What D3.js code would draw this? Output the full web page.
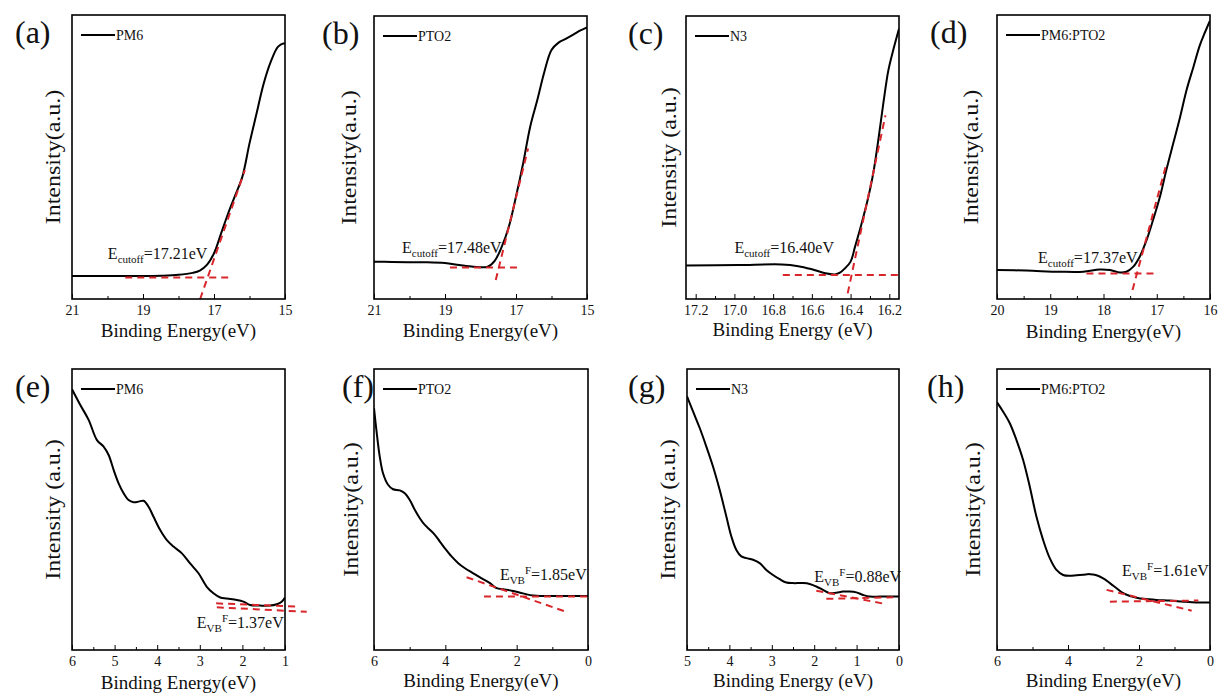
<!DOCTYPE html>
<html>
<head>
<meta charset="utf-8">
<script src="https://cdn.jsdelivr.net/npm/d3@7"></script>
<style>
body { margin: 0; background: #fff; }
</style>
</head>
<body>
<svg width="1218" height="693"></svg>
<script>
// spectra: [binding energy (eV), intensity (a.u., 0-100 of the frame)]
const pm6Cutoff = [[21, 8.1], [20, 8.1], [19, 8.1], [18.5, 8.2], [18, 8.5], [17.6, 9.2], [17.4, 10.0],
  [17.2, 12.0], [17.0, 16.1], [16.8, 23.1], [16.6, 30.2], [16.4, 36.6], [16.2, 43.1], [16.0, 54.8],
  [15.8, 65.4], [15.6, 75.9], [15.4, 83.6], [15.2, 88.8], [15.05, 90.0], [15.0, 89.8]];
const pto2Cutoff = [[21, 13.2], [20.5, 13.1], [20, 13.0], [19.5, 13.0], [19, 12.7], [18.6, 12.0], [18.2, 11.4],
  [17.8, 11.4], [17.6, 13.5], [17.4, 18.5], [17.2, 25.6], [17.0, 36.2], [16.8, 47.9], [16.6, 60.9],
  [16.4, 70.3], [16.2, 80.3], [16.0, 88.0], [15.8, 90.6], [15.6, 91.9], [15.4, 93.3], [15.2, 94.8], [15.0, 96.0]];
const n3Cutoff = [[17.25, 11.8], [16.98, 12.0], [16.755, 12.2], [16.67, 11.6], [16.6, 10.5], [16.53, 9.1],
  [16.48, 8.7], [16.455, 9.3], [16.43, 10.8], [16.4, 13.2], [16.377, 18.5], [16.343, 26.7], [16.308, 36.1],
  [16.283, 44.4], [16.257, 56.1], [16.231, 69.1], [16.205, 80.8], [16.18, 87.9], [16.15, 95.5]];
const blendCutoff = [[20, 10.2], [19.45, 10.0], [18.82, 9.6], [18.38, 9.6], [18.07, 10.4], [17.88, 10.2],
  [17.69, 9.3], [17.57, 9.6], [17.44, 11.4], [17.32, 14.9], [17.19, 20.8], [17.07, 27.8], [16.94, 36.0],
  [16.82, 45.4], [16.69, 54.8], [16.56, 64.2], [16.44, 73.6], [16.31, 81.8], [16.19, 89.4], [16.09, 94.1], [16.0, 98.0]];

const pm6Vb = [[6.0, 92.8], [5.805, 87.2], [5.61, 81.9], [5.414, 74.7], [5.258, 72.4], [5.14, 69.4], [5.023, 64.1],
  [4.906, 59.3], [4.789, 55.8], [4.672, 53.4], [4.555, 52.6], [4.4375, 52.8], [4.32, 53.1], [4.203, 51.0],
  [4.086, 47.4], [3.93, 42.7], [3.773, 39.1], [3.617, 36.8], [3.42, 34.4], [3.227, 30.8], [3.03, 27.3],
  [2.836, 22.5], [2.68, 20.2], [2.52, 18.7], [2.367, 18.3], [2.133, 17.8], [1.977, 17.2], [1.82, 16.0],
  [1.586, 15.8], [1.35, 15.8], [1.195, 16.3], [1.078, 17.2], [1.0, 18.7]];
const pto2Vb = [[6.0, 86.1], [5.934, 78.4], [5.84, 68.9], [5.747, 62.9], [5.606, 58.8], [5.466, 57.2], [5.278, 56.8],
  [5.138, 55.8], [4.997, 53.4], [4.857, 49.9], [4.716, 46.9], [4.575, 44.5], [4.435, 42.8], [4.294, 41.0],
  [4.154, 38.6], [4.013, 36.2], [3.826, 33.3], [3.638, 30.9], [3.45, 29.1], [3.217, 27.3], [2.982, 25.5],
  [2.748, 23.8], [2.56, 22.0], [2.373, 21.6], [2.139, 21.1], [1.904, 20.4], [1.717, 19.8], [1.53, 19.4],
  [1.342, 19.2], [0.967, 19.2], [0.592, 19.2], [0.217, 19.2], [0.0, 19.2]];
const n3Vb = [[5.0, 90.3], [4.858, 84.9], [4.7, 79.0], [4.544, 72.4], [4.387, 65.3], [4.23, 57.0], [4.072, 47.5],
  [3.954, 40.4], [3.836, 35.6], [3.719, 33.3], [3.6, 32.7], [3.443, 32.1], [3.286, 30.9], [3.129, 28.5],
  [2.972, 26.7], [2.814, 25.2], [2.657, 24.0], [2.5, 23.8], [2.264, 23.8], [2.107, 23.5], [1.95, 22.6],
  [1.792, 21.4], [1.635, 20.2], [1.478, 20.4], [1.321, 20.8], [1.164, 20.8], [1.006, 20.5], [0.849, 19.6],
  [0.692, 19.0], [0.456, 19.0], [0.22, 19.0], [0.0, 19.0]];
const blendVb = [[6.0, 88.1], [5.831, 84.9], [5.643, 80.8], [5.454, 74.8], [5.266, 67.7], [5.078, 58.2], [4.89, 47.5],
  [4.702, 39.2], [4.514, 32.7], [4.325, 28.5], [4.137, 26.7], [3.949, 26.4], [3.761, 26.6], [3.573, 26.8],
  [3.385, 27.0], [3.197, 26.6], [3.008, 25.5], [2.82, 23.8], [2.632, 22.0], [2.444, 20.2], [2.256, 19.2],
  [2.068, 18.6], [1.88, 18.2], [1.503, 17.8], [1.127, 17.6], [0.751, 17.2], [0.374, 16.9], [0.0, 16.9]];

// red dashed fit lines, each [[E1, I1], [E2, I2]]
const pm6CutoffFits = [[[19.5, 7.6], [16.6, 7.6]], [[17.39, 0], [16.13, 45.4]]];
const pto2CutoffFits = [[[18.86, 11.1], [16.85, 11.1]], [[17.57, 6.7], [16.66, 53.2]]];
const n3CutoffFits = [[[16.75, 8.5], [16.15, 8.5]], [[16.415, 2.0], [16.22, 64.9]]];
const blendCutoffFits = [[[18.32, 9.0], [16.97, 9.0]], [[17.455, 3.2], [16.815, 47.8]]];
const pm6VbFits = [[[2.617, 16.6], [0.648, 15.4]], [[2.6, 15.2], [0.49, 13.6]]];
const pto2VbFits = [[[3.404, 25.9], [0.639, 13.7]], [[2.917, 19.0], [0.0, 19.0]]];
const n3VbFits = [[[1.95, 21.1], [0.299, 16.3]], [[1.714, 18.2], [0.0, 18.8]]];
const blendVbFits = [[[2.914, 21.4], [0.516, 14.0]], [[2.82, 17.2], [0.327, 17.6]]];

// labels
const panelLetters = ['(a)', '(b)', '(c)', '(d)', '(e)', '(f)', '(g)', '(h)'];
const sampleNames = ['PM6', 'PTO2', 'N3', 'PM6:PTO2', 'PM6', 'PTO2', 'N3', 'PM6:PTO2'];
const edgeValues = ['17.21', '17.48', '16.40', '17.37', '1.37', '1.85', '0.88', '1.61'];
const yTitles = ['Intensity(a.u.)', 'Intensity(a.u.)', 'Intensity (a.u.)', 'Intensity(a.u.)',
  'Intensity (a.u.)', 'Intensity(a.u.)', 'Intensity (a.u.)', 'Intensity(a.u.)'];
const xTitles = ['Binding Energy(eV)', 'Binding Energy(eV)', 'Binding Energy (eV)', 'Binding Energy(eV)',
  'Binding Energy(eV)', 'Binding Energy(eV)', 'Binding Energy (eV)', 'Binding Energy(eV)'];
// annotation anchors in data units [E, I]
const edgeLabelAt = [[19.99, 14.1], [20.21, 16.3], [17.0, 16.3], [19.23, 12.7],
  [3.07, 7.8], [2.47, 24.9], [2.0, 24.2], [2.48, 26.3]];

// axis ticks
const majorTicks = [[21, 19, 17, 15], [21, 19, 17, 15], [17.2, 17.0, 16.8, 16.6, 16.4, 16.2], [20, 19, 18, 17, 16],
  [6, 5, 4, 3, 2, 1], [6, 4, 2, 0], [5, 4, 3, 2, 1, 0], [6, 4, 2, 0]];
const minorTicks = [[20, 18, 16], [20, 18, 16], [17.1, 16.9, 16.7, 16.5, 16.3], [19.5, 18.5, 17.5, 16.5],
  [5.5, 4.5, 3.5, 2.5, 1.5], [5, 3, 1], [4.5, 3.5, 2.5, 1.5, 0.5], [5, 3, 1]];
const xDomains = [[21, 15], [21, 15], [17.25, 16.15], [20, 16], [6, 1], [6, 0], [5, 0], [6, 0]];

const spectra = [pm6Cutoff, pto2Cutoff, n3Cutoff, blendCutoff, pm6Vb, pto2Vb, n3Vb, blendVb];
const fits = [pm6CutoffFits, pto2CutoffFits, n3CutoffFits, blendCutoffFits, pm6VbFits, pto2VbFits, n3VbFits, blendVbFits];

// layout of each panel (pixels)
const layout = [
  {left: 72, right: 285, top: 15, bottom: 299, letterX: 15, yTitleX: 52, xTitleY: 337},
  {left: 374, right: 587, top: 16, bottom: 299, letterX: 322, yTitleX: 348, xTitleY: 337},
  {left: 686, right: 899, top: 16, bottom: 299, letterX: 628, yTitleX: 668, xTitleY: 336},
  {left: 997, right: 1210, top: 15, bottom: 299, letterX: 930, yTitleX: 970, xTitleY: 338},
  {left: 72, right: 285, top: 369, bottom: 650, letterX: 15, yTitleX: 52, xTitleY: 689},
  {left: 374, right: 588, top: 369, bottom: 650, letterX: 342, yTitleX: 350, xTitleY: 687},
  {left: 687, right: 899, top: 369, bottom: 650, letterX: 628, yTitleX: 667, xTitleY: 687},
  {left: 997, right: 1210, top: 369, bottom: 650, letterX: 927, yTitleX: 972, xTitleY: 687}
];

const svg = d3.select('svg');
const red = '#d8262b';
const serif = '"Liberation Serif", "Times New Roman", serif';

layout.forEach((p, i) => drawPanel(p, i));

svg.selectAll('text').style('font-family', serif).style('fill', '#111');

function drawPanel(p, i){
  const x = d3.scaleLinear().domain(xDomains[i]).range([p.left, p.right]);
  const y = d3.scaleLinear().domain([0, 100]).range([p.bottom, p.top]);
  const g = svg.append('g');
  const fmt = i === 2 ? d3.format('.1f') : d3.format('d');

  g.append('clipPath').attr('id', 'clip' + i)
    .append('rect')
    .attr('x', p.left).attr('y', p.top)
    .attr('width', p.right - p.left).attr('height', p.bottom - p.top);

  // ticks point inward
  g.append('g')
    .attr('transform', `translate(0,${p.bottom})`)
    .call(d3.axisBottom(x).tickValues(majorTicks[i]).tickSizeInner(-5).tickSizeOuter(0)
      .tickPadding(6).tickFormat(fmt))
    .call(a => a.select('.domain').remove())
    .attr('font-size', 14);
  g.append('g')
    .attr('transform', `translate(0,${p.bottom})`)
    .call(d3.axisBottom(x).tickValues(minorTicks[i]).tickSizeInner(-3).tickSizeOuter(0).tickFormat(''))
    .call(a => a.select('.domain').remove());

  const line = d3.line().x(d => x(d[0])).y(d => y(d[1])).curve(d3.curveCatmullRom.alpha(0.5));
  g.append('path')
    .datum(spectra[i])
    .attr('clip-path', `url(#clip${i})`)
    .attr('fill', 'none')
    .attr('stroke', '#000')
    .attr('stroke-width', 2)
    .attr('d', line);

  g.selectAll('.fit')
    .data(fits[i])
    .join('line')
    .attr('class', 'fit')
    .attr('x1', d => x(d[0][0])).attr('y1', d => y(d[0][1]))
    .attr('x2', d => x(d[1][0])).attr('y2', d => y(d[1][1]))
    .attr('stroke', red)
    .attr('stroke-width', 2)
    .attr('stroke-dasharray', '7,5');

  g.append('rect')
    .attr('x', p.left).attr('y', p.top)
    .attr('width', p.right - p.left).attr('height', p.bottom - p.top)
    .attr('fill', 'none')
    .attr('stroke', '#000')
    .attr('stroke-width', 1.6);

  // legend
  g.append('line')
    .attr('x1', p.left + 9).attr('x2', p.left + 43)
    .attr('y1', p.top + 20).attr('y2', p.top + 20)
    .attr('stroke', '#000').attr('stroke-width', 2);
  g.append('text')
    .attr('x', p.left + 44).attr('y', p.top + 25)
    .attr('font-size', 14)
    .text(sampleNames[i]);

  // edge annotation
  const ann = g.append('text')
    .attr('x', x(edgeLabelAt[i][0])).attr('y', y(edgeLabelAt[i][1]))
    .attr('font-size', 16);
  ann.append('tspan').text('E');
  if (i < 4) {
    ann.append('tspan').attr('font-size', 11).attr('dy', 4).text('cutoff');
    ann.append('tspan').attr('dy', -4).text('=' + edgeValues[i] + 'eV');
  } else {
    ann.append('tspan').attr('font-size', 11).attr('dy', 4).text('VB');
    ann.append('tspan').attr('font-size', 11).attr('dy', -10).text('F');
    ann.append('tspan').attr('dy', 6).text('=' + edgeValues[i] + 'eV');
  }

  // panel letter
  g.append('text')
    .attr('x', p.letterX).attr('y', p.top + 28)
    .attr('font-size', 32)
    .text(panelLetters[i]);

  // axis titles
  g.append('text')
    .attr('transform', `translate(${p.yTitleX + 8},${(p.top + p.bottom) / 2}) rotate(-90) scale(1.2,1)`)
    .attr('text-anchor', 'middle')
    .attr('font-size', 20)
    .text(yTitles[i]);
  g.append('text')
    .attr('x', (p.left + p.right) / 2).attr('y', p.xTitleY)
    .attr('text-anchor', 'middle')
    .attr('font-size', 19)
    .text(xTitles[i]);
}
</script>
</body>
</html>
